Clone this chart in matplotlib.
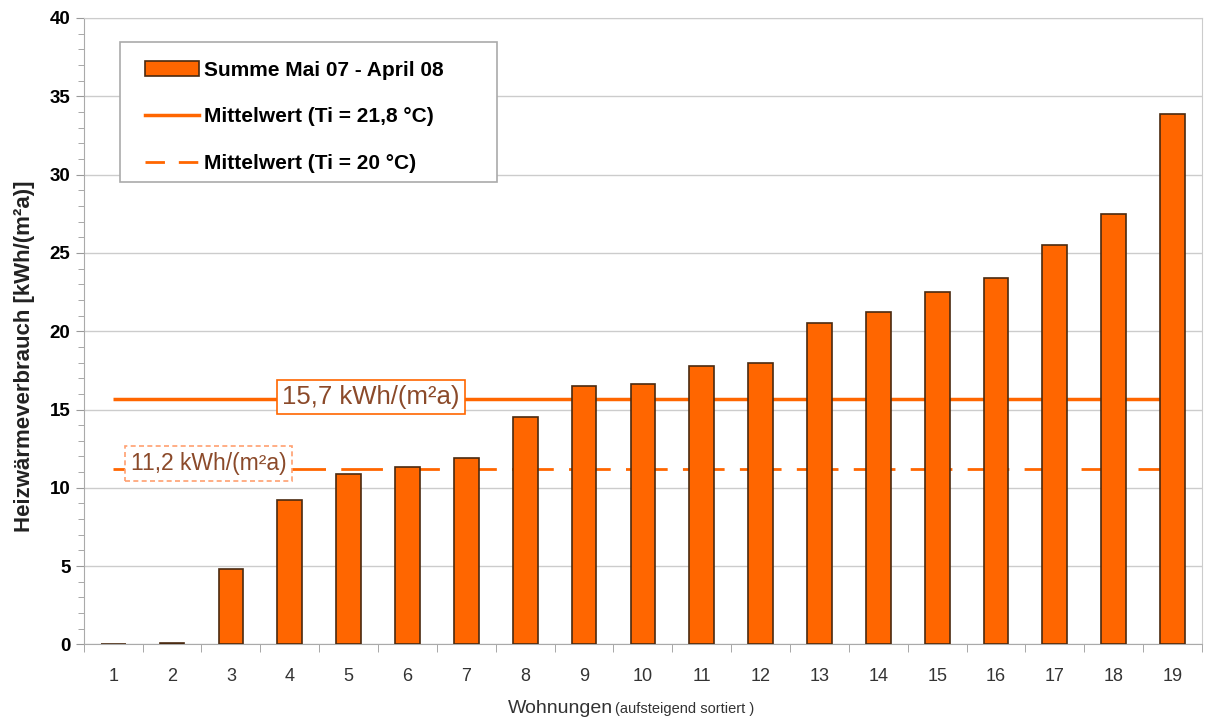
import numpy as np
import matplotlib.pyplot as plt
from matplotlib.ticker import MultipleLocator
from matplotlib.lines import Line2D
from matplotlib.patches import Rectangle, Patch

plt.rcParams['font.family'] = ['Liberation Sans', 'DejaVu Sans']

wohnungen = list(range(1, 20))
verbrauch = [0.0, 0.1, 4.8, 9.2, 10.9, 11.3, 11.9, 14.5, 16.5, 16.6,
             17.8, 18.0, 20.5, 21.2, 22.5, 23.4, 25.5, 27.5, 33.9]
mittel_218 = 15.7
mittel_20 = 11.2

orange = '#ff6600'

fig = plt.figure(figsize=(12.05, 7.2), dpi=100)
ax = fig.add_axes([0.0695, 0.105, 0.928, 0.87])

ax.hlines(mittel_218, 1, 19, color=orange, lw=2.5, zorder=2)
ax.hlines(mittel_20, 1, 19, color=orange, lw=2, linestyles=(0, (15, 5.5)), zorder=2)
ax.bar(wohnungen, verbrauch, width=0.42, color=orange, edgecolor='#4a2a10',
       linewidth=1.2, zorder=3)

ax.text(5.38, 15.8, '15,7 kWh/(m²a)', ha='center', va='center', fontsize=18.5,
        color='#8b4a2a', zorder=4,
        bbox=dict(boxstyle='square,pad=0.2', fc='white', ec=orange, lw=1.2))
ax.text(2.62, 11.55, '11,2 kWh/(m²a)', ha='center', va='center', fontsize=16.5,
        color='#8b4a2a', zorder=4,
        bbox=dict(boxstyle='square,pad=0.25', fc='white', ec='#ffa070', lw=1.2,
                  ls=(0, (3, 2))))

ax.set_xlim(0.5, 19.5)
ax.set_ylim(0, 40)
ax.set_xticks(wohnungen)
ax.set_xticks(np.arange(0.5, 20, 1), minor=True)
ax.tick_params(axis='x', which='major', length=0, pad=17, labelsize=13,
               labelcolor='#333333')
ax.tick_params(axis='x', which='minor', length=6, color='#999999')
ax.yaxis.set_major_locator(MultipleLocator(5))
ax.yaxis.set_minor_locator(MultipleLocator(1))
ax.tick_params(axis='y', which='major', length=6, color='#999999', labelsize=13.5)
ax.tick_params(axis='y', which='minor', length=4, color='#999999')
for lab in ax.get_yticklabels():
    lab.set_fontweight('bold')
ax.grid(axis='y', color='#cccccc', lw=1, zorder=0)
ax.set_axisbelow(True)
for s in ax.spines.values():
    s.set_color('#aaaaaa')
ax.spines['top'].set_color('#cccccc')
ax.spines['right'].set_color('#cccccc')

ax.set_ylabel('Heizwärmeverbrauch [kWh/(m²a)]', fontsize=16, fontweight='bold',
              color='#222222')
ax.yaxis.set_label_coords(-0.044, 0.46)
fig.text(0.509, 0.01, 'Wohnungen', fontsize=14, color='#333333', ha='right')
fig.text(0.5105, 0.01, '(aufsteigend sortiert )', fontsize=10.5, color='#333333',
         ha='left')

# legend with a wider frame like the original
ax.add_patch(Rectangle((0.0996, 0.747), 0.3129, 0.1944, transform=fig.transFigure,
                       fc='white', ec='#aaaaaa', lw=1.2, zorder=5, clip_on=False))
handles = [Patch(fc=orange, ec='#4a2a10', lw=1.2),
           Line2D([], [], color=orange, lw=2.5),
           Line2D([], [], color=orange, lw=2, ls=(0, (7, 5)))]
labels = ['Summe Mai 07 - April 08', 'Mittelwert (Ti = 21,8 °C)',
          'Mittelwert (Ti = 20 °C)']
leg = ax.legend(handles, labels, loc='upper left', bbox_to_anchor=(0.055, 0.932),
                prop={'weight': 'bold', 'size': 15}, frameon=False,
                labelspacing=1.33, handlelength=2.6, handletextpad=0.2,
                borderaxespad=0, borderpad=0)
leg.set_zorder(6)

fig.savefig('out.png', dpi=100)
